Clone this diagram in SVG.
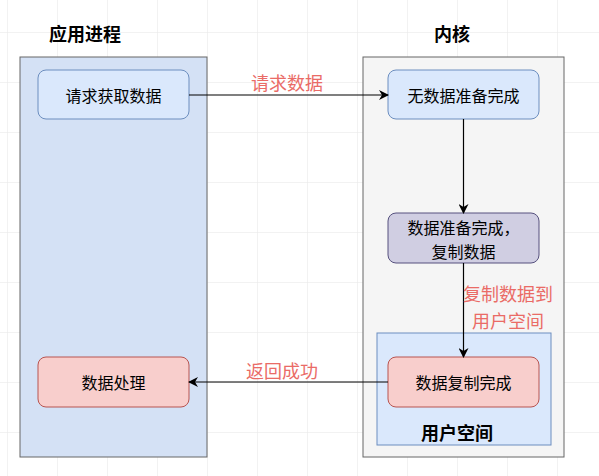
<svg xmlns="http://www.w3.org/2000/svg" width="599" height="476" viewBox="0 0 599 476">
<defs>
<pattern id="grid" x="7" y="32" width="50" height="50" patternUnits="userSpaceOnUse">
<path d="M0 0H50M0 0V50" fill="none" stroke="#e6e6e6" stroke-width="1"/>
</pattern>
<marker id="arr" viewBox="0 0 10 10" refX="9" refY="5" markerWidth="10" markerHeight="10" markerUnits="userSpaceOnUse" orient="auto">
<path d="M0 0L10 5L0 10L3 5Z" fill="#000"/>
</marker>
<style>
.t{font-family:"Noto Sans CJK SC","Liberation Sans",sans-serif;font-size:16px;fill:#000;text-anchor:middle;dominant-baseline:central}
.h{font-family:"Noto Sans CJK SC","Liberation Sans",sans-serif;font-size:18px;font-weight:bold;fill:#000;text-anchor:middle;dominant-baseline:central}
.l{font-family:"Noto Sans CJK SC","Liberation Sans",sans-serif;font-size:18px;fill:#ea6b66;text-anchor:middle;dominant-baseline:central}
.blue{fill:#dae8fc;stroke:#6c8ebf;stroke-width:1}
.red{fill:#f8cecc;stroke:#b85450;stroke-width:1}
.purple{fill:#d0cee2;stroke:#56517e;stroke-width:1}
.e{fill:none;stroke:#000;stroke-width:1.2;marker-end:url(#arr)}
</style>
</defs>
<rect width="599" height="476" fill="#fff"/>
<rect width="599" height="476" fill="url(#grid)"/>
<g id="app-process">
<rect x="20" y="57" width="187" height="400" fill="#d4e1f5" stroke="#666"/>
<text class="h" x="85" y="33">应用进程</text>
</g>
<g id="kernel">
<rect x="363" y="57" width="201" height="400" fill="#f5f5f5" stroke="#666"/>
<text class="h" x="452" y="33">内核</text>
</g>
<g id="user-space">
<rect x="377" y="333" width="174" height="112" class="blue"/>
<text class="h" x="457" y="432">用户空间</text>
</g>
<g id="n1">
<rect x="38" y="70" width="151" height="49" rx="8" class="blue"/>
<text class="t" x="113.5" y="95">请求获取数据</text>
</g>
<g id="n2">
<rect x="388" y="70" width="151" height="49" rx="8" class="blue"/>
<text class="t" x="463.5" y="95">无数据准备完成</text>
</g>
<g id="n3">
<rect x="388" y="213" width="151" height="50" rx="8" class="purple"/>
<text class="t" x="463.5" y="227">数据准备完成，<tspan x="463.5" dy="24">复制数据</tspan></text>
</g>
<g id="n4">
<rect x="388" y="357" width="151" height="50" rx="8" class="red"/>
<text class="t" x="463.5" y="382">数据复制完成</text>
</g>
<g id="n5">
<rect x="38" y="357" width="151" height="50" rx="8" class="red"/>
<text class="t" x="113.5" y="382">数据处理</text>
</g>
<g id="connectors">
<path class="e" d="M189 95H388"/>
<text class="l" x="287" y="82">请求数据</text>
<path class="e" d="M463.5 119V213"/>
<path class="e" d="M463.5 263V357"/>
<text class="l" x="508" y="293">复制数据到<tspan x="508" dy="27">用户空间</tspan></text>
<path class="e" d="M388 382H189"/>
<text class="l" x="282" y="370">返回成功</text>
</g>
</svg>
